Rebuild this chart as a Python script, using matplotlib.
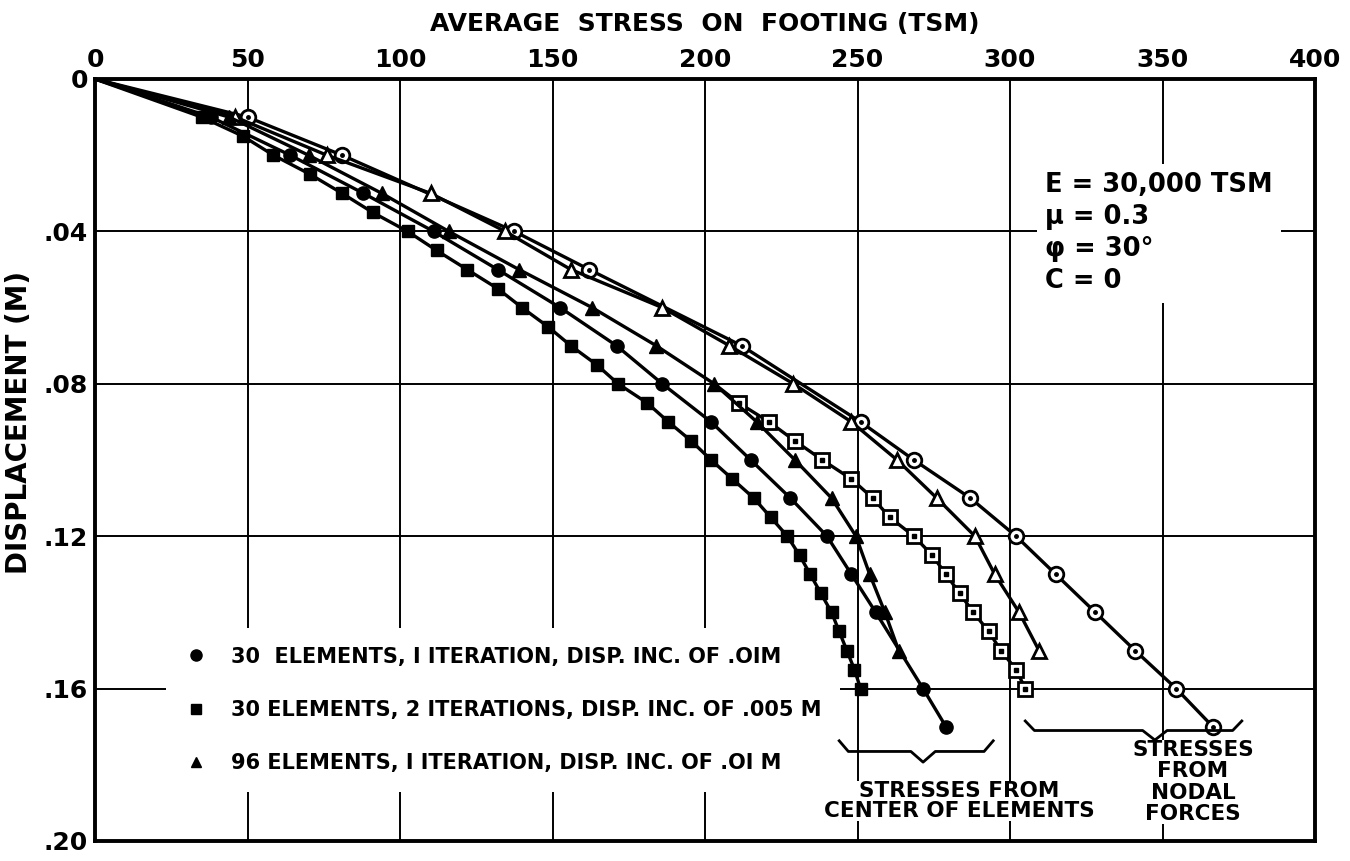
import matplotlib
matplotlib.use("Agg")
import matplotlib.pyplot as plt
from matplotlib import font_manager
from matplotlib.lines import Line2D


def pick_font(names):
    for n in names:
        try:
            font_manager.findfont(n, fallback_to_default=False)
            return n
        except Exception:
            pass
    return "DejaVu Sans"


NARROW = pick_font(["Liberation Sans Narrow", "DejaVu Sans Condensed", "DejaVu Sans"])
WIDE = pick_font(["DejaVu Sans"])

# ---- data (stress in TSM, displacement in m) ----
# 30 elements, 1 iteration, disp inc .01 m  (stresses from centre of elements)
c1_disp = [0, .01, .02, .03, .04, .05, .06, .07, .08, .09, .10, .11, .12, .13, .14, .16, .17]
c1_stress = [0, 38, 64, 88, 111, 132, 152.5, 171, 186, 202, 215, 228, 240, 248, 256, 271.5, 279]

# 30 elements, 2 iterations, disp inc .005 m
c2_disp = [0, .01, .015, .02, .025, .03, .035, .04, .045, .05, .055, .06, .065, .07, .075, .08,
           .085, .09, .095, .10, .105, .11, .115, .12, .125, .13, .135, .14, .145, .15, .155, .16]
c2_stress = [0, 35, 48.5, 58.5, 70.5, 81, 91, 102.5, 112, 122, 132, 140, 148.5, 156, 164.5, 171.5,
             181, 188, 195.5, 202, 209, 216, 221.5, 227, 231, 234.5, 238, 241.5, 244, 246.5, 249, 251]

# 96 elements, 1 iteration, disp inc .01 m
c3_disp = [0, .01, .02, .03, .04, .05, .06, .07, .08, .09, .10, .11, .12, .13, .14, .15]
c3_stress = [0, 44, 70, 94, 116, 139, 163, 184, 203, 217, 229.5, 241.5, 249.5, 254, 259, 263.5]

# stresses from nodal forces
n1_disp = [0, .01, .02, .04, .05, .07, .09, .10, .11, .12, .13, .14, .15, .16, .17]
n1_stress = [0, 50, 81, 137.5, 162, 212, 251, 268.5, 287, 302, 315, 328, 341, 354.5, 366.5]

n2_disp = [.08, .085, .09, .095, .10, .105, .11, .115, .12, .125, .13, .135, .14, .145, .15, .155, .16]
n2_stress = [203, 211, 221, 229.5, 238.5, 248, 255, 260.5, 268.5, 274.5, 279, 283.5, 288, 293, 297, 302, 305]

n3_disp = [0, .01, .02, .03, .04, .05, .06, .07, .08, .09, .10, .11, .12, .13, .14, .15]
n3_stress = [0, 46, 76, 110, 134.5, 156, 186, 208, 229, 248, 263, 276, 288.5, 295, 303, 309.5]

legend_labels = [
    "30  ELEMENTS, I ITERATION, DISP. INC. OF .OIM",
    "30 ELEMENTS, 2 ITERATIONS, DISP. INC. OF .005 M",
    "96 ELEMENTS, I ITERATION, DISP. INC. OF .OI M",
]
x_ticks = [0, 50, 100, 150, 200, 250, 300, 350, 400]
y_ticks = [0, .04, .08, .12, .16, .20]
y_ticklabels = ["0", ".04", ".08", ".12", ".16", ".20"]

LW = 2.4

fig = plt.figure(figsize=(13.5, 8.61), dpi=100)
ax = fig.add_axes([95 / 1350, 1 - 841 / 861, (1315 - 95) / 1350, (841 - 79) / 861])

ax.set_xlim(0, 400)
ax.set_ylim(0.20, 0)
ax.xaxis.tick_top()
ax.xaxis.set_label_position("top")
ax.set_xticks(x_ticks)
ax.set_xticklabels([str(v) for v in x_ticks], fontfamily=NARROW, fontweight="bold", fontsize=18)
ax.set_yticks(y_ticks)
ax.set_yticklabels(y_ticklabels, fontfamily=NARROW, fontweight="bold", fontsize=18)
ax.tick_params(length=0, pad=5)
ax.grid(True, color="black", lw=1.4, zorder=0)
ax.set_axisbelow(True)
for s in ax.spines.values():
    s.set_linewidth(2.8)

ax.set_xlabel("AVERAGE  STRESS  ON  FOOTING (TSM)", fontfamily=NARROW, fontweight="bold",
              fontsize=18, labelpad=12)
fig.text(19 / 1350, 1 - 422 / 861, "DISPLACEMENT (M)", rotation=90, ha="center", va="center",
         fontfamily=WIDE, fontweight="bold", fontsize=20)

# centre-of-element curves (filled markers)
ax.plot(c1_stress, c1_disp, "-o", color="black", lw=LW, ms=9.5, markevery=slice(1, None), zorder=4)
ax.plot(c2_stress, c2_disp, "-s", color="black", lw=LW, ms=8.5, markevery=slice(1, None), zorder=4)
ax.plot(c3_stress, c3_disp, "-^", color="black", lw=LW, ms=9.5, markevery=slice(1, None), zorder=4)

# nodal force curves (open markers with a centre dot)
ax.plot(n1_stress, n1_disp, "-o", color="black", lw=LW, ms=10.5, mfc="white", mew=2.0,
        markevery=slice(1, None), zorder=3)
ax.plot(n1_stress[1:], n1_disp[1:], "o", color="black", ms=2.5, zorder=3.5)
ax.plot(n2_stress, n2_disp, "-s", color="black", lw=LW, ms=10, mfc="white", mew=2.0,
        markevery=slice(1, None), zorder=3)
ax.plot(n2_stress[1:], n2_disp[1:], "s", color="black", ms=2.5, zorder=3.5)
ax.plot(n3_stress, n3_disp, "-^", color="black", lw=LW, ms=10, mfc="white", mew=2.0,
        markevery=slice(1, None), zorder=3)

# legend (white box hides the grid behind the text, as on the original)
handles = [Line2D([], [], ls="none", marker=m, color="black", ms=s) for m, s in (("o", 8), ("s", 7.5), ("^", 7.5))]
leg = ax.legend(handles, legend_labels, loc="center left", bbox_to_anchor=(0.05, 0.172),
                frameon=True, fancybox=False, handlelength=1.0, handletextpad=1.2,
                labelspacing=1.6, borderpad=0.9,
                prop={"family": NARROW, "weight": "bold", "size": 15})
leg.get_frame().set_facecolor("white")
leg.get_frame().set_edgecolor("none")
leg.get_frame().set_alpha(1)
leg.set_zorder(2)

# material parameters
ax.text(311.5, 0.0245, "E = 30,000 TSM\nμ = 0.3\nφ = 30°\nC = 0", fontfamily=WIDE,
        fontweight="bold", fontsize=18.5, ha="left", va="top", linespacing=1.3, zorder=2,
        bbox=dict(facecolor="white", edgecolor="none", pad=6))


def brace(x0, x1, xtip, y, h):
    xs = [x0, x0 + 3, xtip - 4, xtip, xtip + 4, x1 - 3, x1]
    ys = [y - h, y, y, y + h, y, y, y - h]
    ax.plot(xs, ys, color="black", lw=2.0, zorder=3, clip_on=False)


brace(244, 294.5, 271.5, 0.1765, 0.0028)
brace(305, 376, 347.5, 0.171, 0.0025)

ax.text(283.5, 0.1895, "STRESSES FROM\nCENTER OF ELEMENTS", fontfamily=NARROW, fontweight="bold",
        fontsize=15.5, ha="center", va="center", linespacing=1.0, zorder=2,
        bbox=dict(facecolor="white", edgecolor="none", pad=0))
ax.text(360, 0.1845, "STRESSES\nFROM\nNODAL\nFORCES", fontfamily=NARROW, fontweight="bold",
        fontsize=15.5, ha="center", va="center", linespacing=1.08, zorder=2,
        bbox=dict(facecolor="white", edgecolor="none", pad=0))

fig.savefig("out.png", dpi=100, facecolor="white")
